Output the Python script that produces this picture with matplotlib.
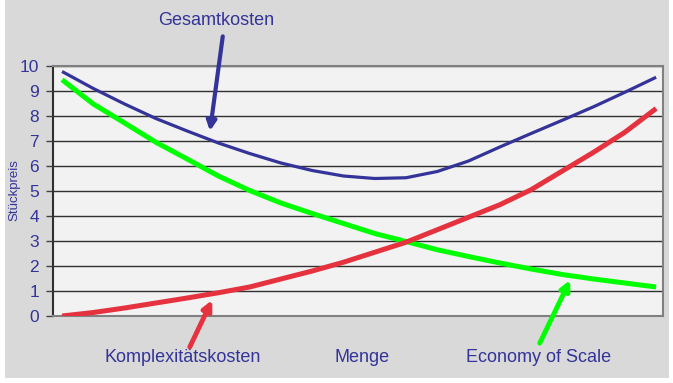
import matplotlib.pyplot as plt
from matplotlib.patches import Rectangle

# data (20 points along "Menge")
menge = list(range(20))
gesamtkosten = [9.78, 9.1, 8.48, 7.9, 7.4, 6.92, 6.5, 6.12, 5.82, 5.6,
                5.5, 5.53, 5.78, 6.2, 6.76, 7.3, 7.83, 8.37, 8.95, 9.55]
economy_of_scale = [9.45, 8.48, 7.72, 6.95, 6.28, 5.6, 5.02, 4.52, 4.1, 3.7,
                    3.3, 2.98, 2.65, 2.38, 2.12, 1.88, 1.66, 1.48, 1.32, 1.16]
komplexitaet = [0.0, 0.14, 0.32, 0.52, 0.72, 0.93, 1.16, 1.48, 1.8, 2.15,
                2.55, 2.95, 3.45, 3.95, 4.45, 5.05, 5.8, 6.55, 7.35, 8.3]
y_ticks = list(range(0, 11))

NAVY = "#333399"
GREEN = "#00ff00"
RED = "#e5323e"

plt.rcParams["font.family"] = ["Liberation Sans", "DejaVu Sans"]

fig = plt.figure(figsize=(6.73, 3.83), dpi=100, facecolor="white")
fig.patches.append(Rectangle((5 / 673, 5 / 383), 664 / 673, 378 / 383,
                             transform=fig.transFigure, facecolor="#d9d9d9",
                             edgecolor="none", zorder=-10))

ax = fig.add_axes([53 / 673, 1 - 316 / 383, 610 / 673, 250 / 383])
ax.set_facecolor("#f2f2f2")

ax.plot(menge, gesamtkosten, color=NAVY, lw=2.3, solid_capstyle="butt", zorder=3)
ax.plot(menge, economy_of_scale, color=GREEN, lw=3.6, solid_capstyle="butt", zorder=3)
ax.plot(menge, komplexitaet, color=RED, lw=3.6, solid_capstyle="butt", zorder=3)

ax.set_xlim(-0.29, 19.22)
ax.set_ylim(0, 10)
ax.set_yticks(y_ticks)
ax.set_xticks([])
ax.tick_params(axis="y", labelsize=12.5, labelcolor=NAVY, colors="#404040",
               length=5, width=1, pad=5)
for lbl in ax.get_yticklabels():
    lbl.set_color(NAVY)
ax.yaxis.grid(True, color="#303030", lw=1)
ax.set_axisbelow(True)
for side in ["top", "right", "bottom"]:
    ax.spines[side].set_color("#808080")
    ax.spines[side].set_linewidth(1.5)
ax.spines["left"].set_color("#303030")
ax.spines["left"].set_linewidth(1.5)

fig.text(0.022, 0.504, "Stückpreis", rotation=90, ha="center", va="center",
         fontsize=9.5, color=NAVY)

# labels with arrows
fig.text(0.321, 0.946, "Gesamtkosten", ha="center", va="center", fontsize=13, color=NAVY)
ax.annotate("", xy=(4.73, 7.4), xycoords="data", xytext=(0.331, 0.905),
            textcoords="figure fraction", annotation_clip=False,
            arrowprops=dict(arrowstyle="-|>", color=NAVY, lw=3, mutation_scale=14,
                            shrinkA=0, shrinkB=0))

fig.text(0.271, 0.066, "Komplexitätskosten", ha="center", va="center", fontsize=13, color=NAVY)
ax.annotate("", xy=(4.8, 0.64), xycoords="data", xytext=(0.282, 0.094),
            textcoords="figure fraction", annotation_clip=False,
            arrowprops=dict(arrowstyle="-|>", color=RED, lw=3.5, mutation_scale=14,
                            shrinkA=0, shrinkB=0))

fig.text(0.538, 0.066, "Menge", ha="center", va="center", fontsize=13, color=NAVY)

fig.text(0.8, 0.066, "Economy of Scale", ha="center", va="center", fontsize=13, color=NAVY)
ax.annotate("", xy=(16.25, 1.44), xycoords="data", xytext=(0.802, 0.104),
            textcoords="figure fraction", annotation_clip=False,
            arrowprops=dict(arrowstyle="-|>", color=GREEN, lw=3.5, mutation_scale=14,
                            shrinkA=0, shrinkB=0))

fig.savefig("out.png", dpi=100, facecolor=fig.get_facecolor())
